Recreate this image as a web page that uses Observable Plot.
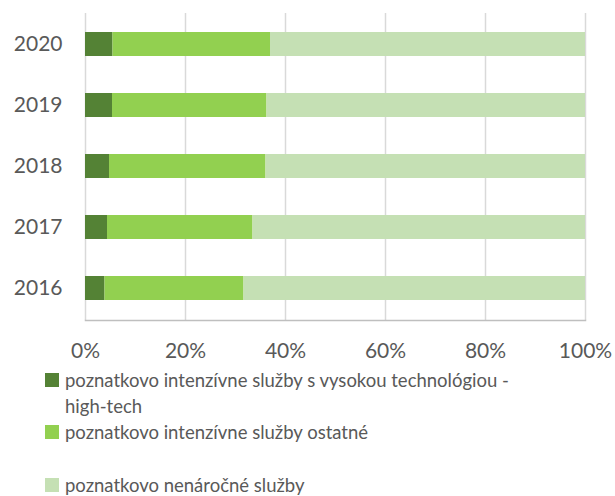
<!DOCTYPE html>
<html><head><meta charset="utf-8">
<script src="https://cdn.jsdelivr.net/npm/d3@7"></script>
<script src="https://cdn.jsdelivr.net/npm/@observablehq/plot@0.6"></script>
<style>
body{margin:0;background:#fff;font-family:Lato,"Open Sans",sans-serif;}
#legend{position:relative;margin-top:-3px;font-size:18.5px;line-height:26px;color:#595959;padding-left:65px;}
.item{position:relative;white-space:nowrap;}
.sw{position:absolute;left:-20px;top:6px;width:14px;height:14px;}
</style></head><body><div id="chart"></div><div id="legend"></div><script>
const years = ["2016","2017","2018","2019","2020"];
const seriesNames = ["poznatkovo intenzívne služby s vysokou technológiou - high-tech","poznatkovo intenzívne služby ostatné","poznatkovo nenáročné služby"];
const legendLines = [["poznatkovo intenzívne služby s vysokou technológiou -","high-tech"],["poznatkovo intenzívne služby ostatné"],["poznatkovo nenáročné služby"]];
const highTech = [3.9,4.4,4.8,5.4,5.5];
const otherKnow = [27.8,29.1,31.3,30.9,31.5];
const lowKnow = [68.3,66.5,63.9,63.7,63.0];
const colors = ["#548235","#92D050","#C5E0B4"];
const xTicks = [0,20,40,60,80,100];

const seriesValues = [highTech, otherKnow, lowKnow];
const rows = [];
years.forEach((y,i)=>seriesValues.forEach((vals,s)=>rows.push({year:y, series:seriesNames[s], value:vals[i]})));

const chart = Plot.plot({
  width:615, height:370,
  marginTop:13, marginBottom:50, marginLeft:85, marginRight:30,
  style:{fontFamily:"Lato, 'Open Sans', sans-serif", fontSize:"21px", color:"#595959", background:"#fff"},
  x:{domain:[0,100], ticks:xTicks, tickFormat:d=>d+"%", label:null},
  y:{domain:years.slice().reverse(), paddingInner:0.6, paddingOuter:0.3, label:null},
  color:{domain:seriesNames, range:colors},
  marks:[
    Plot.ruleX(xTicks,{stroke:"#d9d9d9", strokeWidth:1.5}),
    Plot.barX(rows,{y:"year", x:"value", fill:"series", order:seriesNames}),
    Plot.frame({anchor:"bottom", stroke:"#bfbfbf", strokeWidth:1.5}),
    Plot.axisX({ticks:xTicks, tickSize:0, tickPadding:23, tickFormat:d=>d+"%", label:null}),
    Plot.axisY({tickSize:0, tickPadding:23, label:null})
  ]
});
document.getElementById("chart").appendChild(chart);

const leg = document.getElementById("legend");
legendLines.forEach((lines,i)=>{
  const d = document.createElement("div");
  d.className="item";
  if(i===2) d.style.marginTop="27px";
  const sw = document.createElement("span");
  sw.className="sw"; sw.style.background=colors[i];
  d.appendChild(sw);
  lines.forEach((t,j)=>{ if(j) d.appendChild(document.createElement("br")); d.appendChild(document.createTextNode(t)); });
  leg.appendChild(d);
});
</script></body></html>
